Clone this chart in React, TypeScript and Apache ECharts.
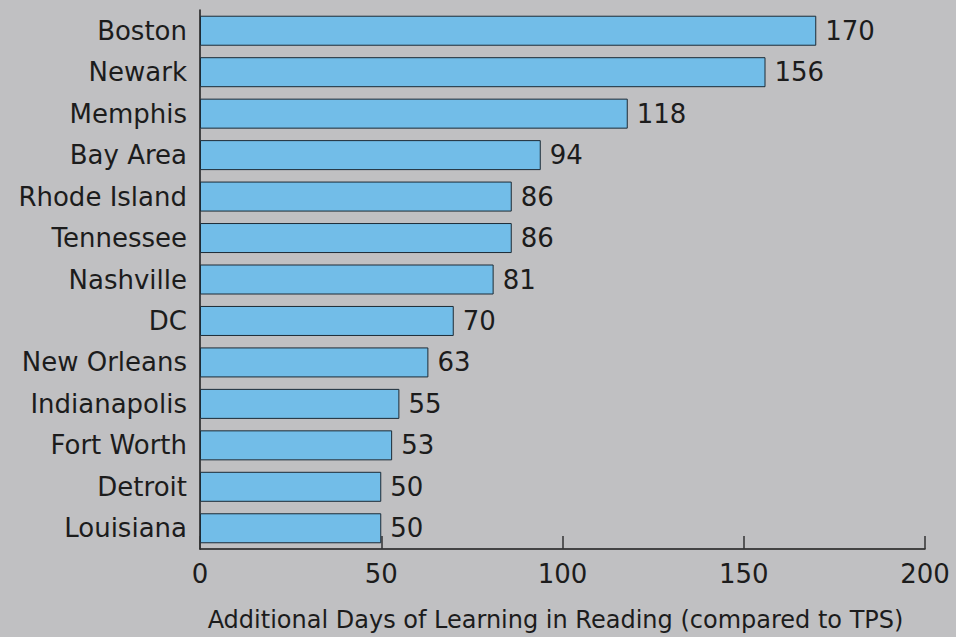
import React, { useEffect, useRef } from "react";
import * as echarts from "echarts";

const categories = [
  "Boston", "Newark", "Memphis", "Bay Area", "Rhode Island", "Tennessee", "Nashville",
  "DC", "New Orleans", "Indianapolis", "Fort Worth", "Detroit", "Louisiana",
];
const values = [170, 156, 118, 94, 86, 86, 81, 70, 63, 55, 53, 50, 50];
const axisTitle = "Additional Days of Learning in Reading (compared to TPS)";

const FONT = "'DejaVu Sans', sans-serif";
const TEXT = "#1c1c1c";

export default function App() {
  const ref = useRef<HTMLDivElement>(null);
  useEffect(() => {
    if (!ref.current) return;
    const chart = echarts.init(ref.current, undefined, { renderer: "svg" });
    chart.setOption({
      animation: false,
      backgroundColor: "#c0c0c2",
      grid: { left: 200, right: 31, top: 10, bottom: 86, containLabel: false },
      xAxis: {
        type: "value",
        min: 0,
        max: 200,
        interval: 50,
        name: axisTitle,
        nameLocation: "middle",
        nameGap: 59,
        nameTextStyle: { fontFamily: FONT, fontSize: 24, color: TEXT, padding: [0, 14, 0, 0] },
        axisLine: { show: true, lineStyle: { color: "#1a1a1a", width: 1.5 } },
        axisTick: { show: true, inside: true, length: 13, lineStyle: { color: "#333", width: 1.5 } },
        axisLabel: { fontFamily: FONT, fontSize: 26, color: TEXT, margin: 12 },
        splitLine: { show: false },
      },
      yAxis: {
        type: "category",
        data: categories,
        inverse: true,
        axisLine: { show: true, lineStyle: { color: "#1a1a1a", width: 1.5 } },
        axisTick: { show: false },
        axisLabel: { fontFamily: FONT, fontSize: 26, color: TEXT, margin: 13 },
      },
      series: [
        {
          type: "bar",
          data: values,
          barWidth: 30,
          itemStyle: { color: "#72bde8", borderColor: "#1c2b36", borderWidth: 1 },
          label: {
            show: true,
            position: "right",
            distance: 9,
            fontFamily: FONT,
            fontSize: 26,
            color: TEXT,
          },
        },
      ],
    });
    return () => chart.dispose();
  }, []);
  return <div ref={ref} style={{ width: 956, height: 637, position: "absolute", left: 0, top: 0 }} />;
}
